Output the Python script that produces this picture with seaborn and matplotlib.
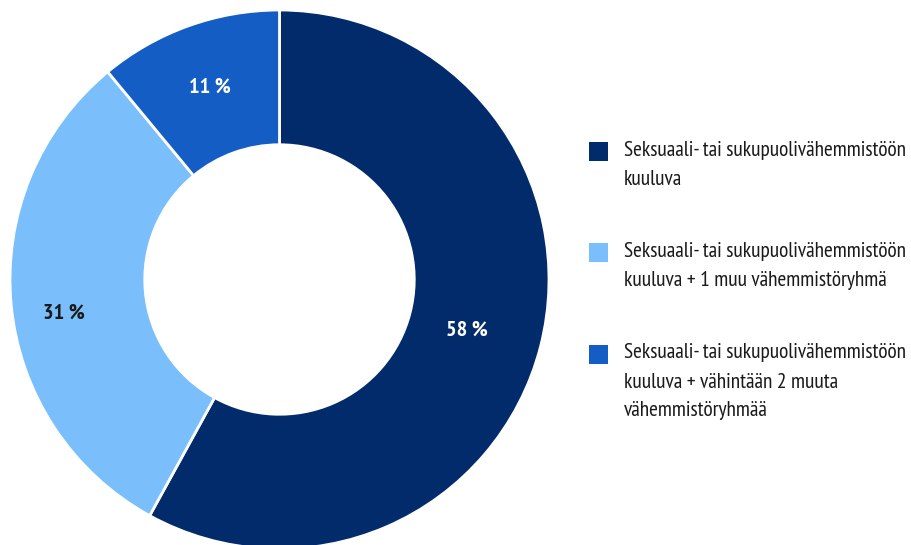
import matplotlib
matplotlib.use("Agg")
import numpy as np
import matplotlib.pyplot as plt
from matplotlib import font_manager
from matplotlib.patches import Rectangle
import seaborn as sns

# --- data ---
legend_lines = [
    ["Seksuaali- tai sukupuolivähemmistöön", "kuuluva"],
    ["Seksuaali- tai sukupuolivähemmistöön", "kuuluva + 1 muu vähemmistöryhmä"],
    ["Seksuaali- tai sukupuolivähemmistöön", "kuuluva + vähintään 2 muuta", "vähemmistöryhmää"],
]
shares = [58, 31, 11]
pct_labels = ["58 %", "31 %", "11 %"]
colors = ["#022b6b", "#7abefc", "#135dc4"]
label_colors = ["white", "#1a1a1a", "white"]

# label placement tweaks (distance from centre, angle shift in degrees)
label_dist = [0.72, 0.81, 0.76]
label_shift = [-0.7, 3.5, 0.0]

sns.set_theme(style="white")

# pick a condensed sans close to the original's narrow type
installed = {f.name for f in font_manager.fontManager.ttflist}
candidates = ["PT Sans Narrow", "Roboto Condensed", "Open Sans Condensed",
              "Archivo Narrow", "Sofia Sans Condensed", "Sofia Sans Semi Condensed",
              "Liberation Sans Narrow"]
family = next((c for c in candidates if c in installed), "DejaVu Sans")
plt.rcParams["font.family"] = [family, "DejaVu Sans"]

W, H = 912, 545
fig = plt.figure(figsize=(W / 100, H / 100), dpi=100)
ax = fig.add_axes([10 / W, -4 / H, 539 / W, 539 / H])

wedges, texts, autotexts = ax.pie(
    shares, colors=colors, startangle=90, counterclock=False,
    radius=1, autopct="%d", pctdistance=0.75,
    wedgeprops=dict(width=0.5, edgecolor="white", linewidth=2),
)
for w, t, lab, c, d, s in zip(wedges, autotexts, pct_labels, label_colors, label_dist, label_shift):
    mid = np.deg2rad((w.theta1 + w.theta2) / 2 + s)
    t.set_position((d * np.cos(mid), d * np.sin(mid)))
    t.set_text(lab)
    t.set_color(c)
    t.set_fontsize(16)
    t.set_fontweight("bold")
ax.set_xlim(-1, 1)
ax.set_ylim(-1, 1)
ax.set_aspect("equal")
ax.axis("off")

# legend: square aligned with the first line of each entry
entry_top = [150, 251, 353]   # pixel y of first line centre
line_step = 29
for w, lines, y0 in zip(wedges, legend_lines, entry_top):
    fig.add_artist(Rectangle((589 / W, 1 - (y0 + 11) / H), 19 / W, 19 / H,
                             transform=fig.transFigure, facecolor=w.get_facecolor(),
                             edgecolor="none"))
    for i, line in enumerate(lines):
        fig.text(624 / W, 1 - (y0 + i * line_step) / H, line, fontsize=15.4,
                 color="#1a1a1a", ha="left", va="center")

fig.savefig("out.png", dpi=100)
